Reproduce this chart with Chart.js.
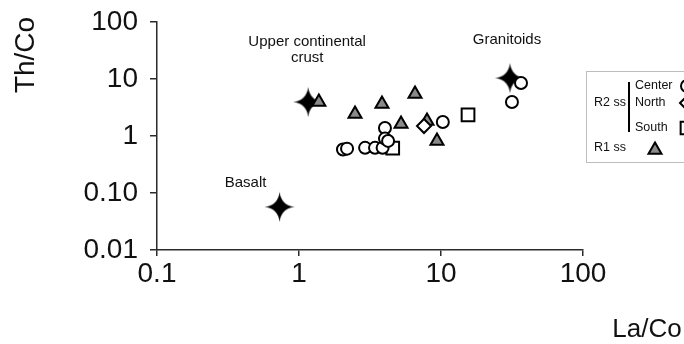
<!DOCTYPE html>
<html>
<head>
<meta charset="utf-8">
<script src="https://cdn.jsdelivr.net/npm/chart.js@4.4.1/dist/chart.umd.min.js"></script>
<style>
  html, body { margin: 0; padding: 0; background: #ffffff; }
  #wrap { width: 684px; height: 344px; position: relative; }
</style>
</head>
<body>
<div id="wrap"><canvas id="c" width="684" height="344"></canvas></div>
<script>
// La/Co (x) and Th/Co (y) ratios
const centerLaCo = [2.04, 2.18, 2.92, 3.43, 3.88, 4.03, 4.03, 4.24, 10.3, 36.6, 31.6];
const centerThCo = [0.58, 0.60, 0.62, 0.62, 0.62, 1.38, 0.90, 0.82, 1.76, 8.5, 3.95];
const northLaCo = [7.59];
const northThCo = [1.50];
const southLaCo = [15.5, 4.57];
const southThCo = [2.34, 0.61];
const r1LaCo = [1.38, 2.48, 3.84, 6.56, 5.23, 7.97, 9.37];
const r1ThCo = [3.95, 2.43, 3.64, 5.46, 1.63, 1.83, 0.82];
const refNames = ['Upper continental crust', 'Granitoids', 'Basalt'];
const refLaCo = [1.16, 30.6, 0.73];
const refThCo = [3.95, 10.4, 0.057];

const xTickValues = [0.1, 1, 10, 100];
const xTickLabels = ['0.1', '1', '10', '100'];
const yTickValues = [0.01, 0.1, 1, 10, 100];
const yTickLabels = ['0.01', '0.10', '1', '10', '100'];

const FONT = "'Liberation Sans', Arial, sans-serif";
const INK = '#111111';
const AXIS = '#2b2b2b';
const TRI_FILL = '#8a8a8a';

function pairs(xs, ys) { return xs.map((x, i) => ({ x: x, y: ys[i] })); }

// four-pointed star used for the reference compositions
function makeStar(size) {
  const cv = document.createElement('canvas');
  cv.width = size; cv.height = size;
  const g = cv.getContext('2d');
  const c = size / 2, R = size / 2 - 0.5, k = 1.6;
  g.fillStyle = '#000';
  g.beginPath();
  g.moveTo(c, c - R);
  g.quadraticCurveTo(c + k, c - k, c + R, c);
  g.quadraticCurveTo(c + k, c + k, c, c + R);
  g.quadraticCurveTo(c - k, c + k, c - R, c);
  g.quadraticCurveTo(c - k, c - k, c, c - R);
  g.closePath();
  g.fill();
  return cv;
}
const starImg = makeStar(31);

const textPlugin = {
  id: 'texts',
  afterDraw(chart) {
    const ctx = chart.ctx;
    const xs = chart.scales.x, ys = chart.scales.y;
    ctx.save();
    ctx.fillStyle = INK;
    ctx.textAlign = 'center';
    ctx.textBaseline = 'middle';

    // axis titles
    ctx.font = '26px ' + FONT;
    ctx.fillText('La/Co', 647, 330);
    ctx.font = '28px ' + FONT;
    ctx.save();
    ctx.translate(26, 55);
    ctx.rotate(-Math.PI / 2);
    ctx.fillText('Th/Co', 0, 0);
    ctx.restore();

    // reference labels, placed relative to their stars
    ctx.font = '15px ' + FONT;
    const ucx = xs.getPixelForValue(refLaCo[0]), ucy = ys.getPixelForValue(refThCo[0]);
    ctx.fillText('Upper continental', ucx - 1, ucy - 60);
    ctx.fillText('crust', ucx - 1, ucy - 44);
    const gx = xs.getPixelForValue(refLaCo[1]), gy = ys.getPixelForValue(refThCo[1]);
    ctx.fillText('Granitoids', gx - 3, gy - 38);
    const bx = xs.getPixelForValue(refLaCo[2]), by = ys.getPixelForValue(refThCo[2]);
    ctx.fillText('Basalt', bx - 34, by - 24);

    // legend box
    ctx.strokeStyle = '#bdbdbd';
    ctx.lineWidth = 1;
    ctx.strokeRect(586.5, 71.5, 120, 91);
    ctx.font = '12.5px ' + FONT;
    ctx.textAlign = 'left';
    ctx.fillText('R2 ss', 594, 103);
    ctx.fillText('R1 ss', 594, 148);
    ctx.fillText('Center', 635, 86);
    ctx.fillText('North', 635, 103);
    ctx.fillText('South', 635, 128);
    ctx.fillStyle = '#000';
    ctx.fillRect(628, 82, 2, 50);

    const mk = (style, radius, fill, x, y) => {
      ctx.fillStyle = fill;
      ctx.strokeStyle = '#000';
      ctx.lineWidth = 2;
      Chart.helpers.drawPoint(ctx, { pointStyle: style, radius: radius, rotation: 0, borderWidth: 2 }, x, y);
    };
    mk('circle', 6, '#fff', 687, 86);
    mk('rectRot', 7, '#fff', 687, 103);
    mk('rect', 9, '#fff', 687, 128);
    mk('triangle', 7.5, TRI_FILL, 655, 150);
    ctx.restore();
  }
};

new Chart(document.getElementById('c'), {
  type: 'scatter',
  data: {
    datasets: [
      {
        label: 'R2 ss Center',
        data: pairs(centerLaCo, centerThCo),
        pointStyle: 'circle', pointRadius: 6, pointHoverRadius: 6,
        backgroundColor: '#ffffff', borderColor: '#000000', borderWidth: 2
      },
      {
        label: 'R2 ss North',
        data: pairs(northLaCo, northThCo),
        pointStyle: 'rectRot', pointRadius: 7, pointHoverRadius: 7,
        backgroundColor: '#ffffff', borderColor: '#000000', borderWidth: 2
      },
      {
        label: 'R2 ss South',
        data: pairs(southLaCo, southThCo),
        pointStyle: 'rect', pointRadius: 9, pointHoverRadius: 9,
        backgroundColor: '#ffffff', borderColor: '#000000', borderWidth: 2
      },
      {
        label: 'R1 ss',
        data: pairs(r1LaCo, r1ThCo),
        pointStyle: 'triangle', pointRadius: 7.5, pointHoverRadius: 7.5,
        backgroundColor: TRI_FILL, borderColor: '#000000', borderWidth: 2
      },
      {
        label: 'Reference',
        data: pairs(refLaCo, refThCo),
        pointStyle: starImg, pointRadius: 15,
        backgroundColor: '#000', borderColor: '#000'
      }
    ]
  },
  options: {
    responsive: false,
    animation: false,
    events: [],
    layout: { padding: { left: 0, top: 22, right: 101, bottom: 0 } },
    plugins: { legend: { display: false }, tooltip: { enabled: false } },
    scales: {
      x: {
        type: 'logarithmic',
        min: 0.1, max: 100,
        afterFit(s) { s.height = 94; s.paddingLeft = 0; s.paddingRight = 0; },
        afterBuildTicks(s) { s.ticks = xTickValues.map(v => ({ value: v })); },
        border: { display: true, color: AXIS, width: 1.5 },
        grid: { display: true, drawOnChartArea: false, drawTicks: true, tickLength: 6, color: AXIS, lineWidth: 1.5 },
        ticks: {
          autoSkip: false, maxRotation: 0, padding: 1, color: INK,
          font: { family: FONT, size: 28 },
          callback(v) { const i = xTickValues.indexOf(v); return i >= 0 ? xTickLabels[i] : ''; }
        }
      },
      y: {
        type: 'logarithmic',
        min: 0.01, max: 100,
        afterFit(s) { s.width = 157; s.paddingTop = 0; s.paddingBottom = 0; },
        afterBuildTicks(s) { s.ticks = yTickValues.map(v => ({ value: v })); },
        border: { display: true, color: AXIS, width: 1.5 },
        grid: { display: true, drawOnChartArea: false, drawTicks: true, tickLength: 7, color: AXIS, lineWidth: 1.5 },
        ticks: {
          autoSkip: false, padding: 12, color: INK,
          font: { family: FONT, size: 28 },
          callback(v) { const i = yTickValues.indexOf(v); return i >= 0 ? yTickLabels[i] : ''; }
        }
      }
    }
  },
  plugins: [textPlugin]
});
</script>
</body>
</html>
